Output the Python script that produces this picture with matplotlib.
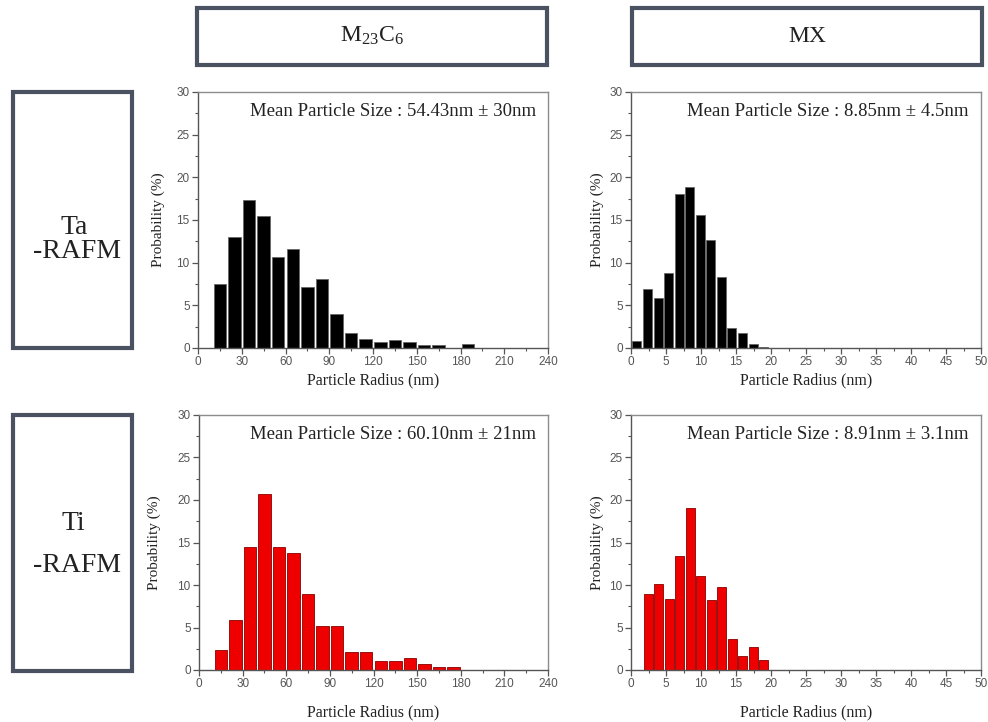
import matplotlib
matplotlib.use("Agg")
import matplotlib.pyplot as plt
from matplotlib.patches import Rectangle
from matplotlib.ticker import MultipleLocator

plt.rcParams["mathtext.fontset"] = "custom"
plt.rcParams["mathtext.rm"] = "Liberation Serif"
plt.rcParams["mathtext.it"] = "Liberation Serif:italic"
plt.rcParams["mathtext.bf"] = "Liberation Serif:bold"

# ---- data ----
m23_centers = [15, 25, 35, 45, 55, 65, 75, 85, 95, 105, 115, 125, 135, 145, 155, 165, 175, 185]
ta_m23 = [7.5, 13.0, 17.4, 15.5, 10.7, 11.6, 7.1, 8.1, 4.0, 1.7, 1.1, 0.7, 0.9, 0.7, 0.3, 0.3, 0.0, 0.45]
ti_m23 = [2.4, 5.9, 14.5, 20.7, 14.5, 13.8, 9.0, 5.2, 5.2, 2.1, 2.1, 1.1, 1.1, 1.4, 0.7, 0.35, 0.35, 0.0]

ta_mx_centers = [0.8, 2.35, 3.9, 5.4, 6.9, 8.4, 9.9, 11.4, 12.9, 14.4, 15.95, 17.45, 18.95]
ta_mx = [0.8, 6.9, 5.9, 8.8, 18.1, 18.9, 15.6, 12.7, 8.3, 2.4, 1.8, 0.5, 0.15]
ti_mx_centers = [2.45, 3.95, 5.45, 6.95, 8.45, 9.95, 11.45, 12.95, 14.45, 15.95, 17.45, 18.95]
ti_mx = [9.0, 10.1, 8.3, 13.4, 19.1, 11.1, 8.2, 9.8, 3.6, 1.7, 2.7, 1.2]

col_titles = [r"M$_{\mathrm{23}}$C$_{\mathrm{6}}$", "MX"]
row_titles = [["Ta", "-RAFM"], ["Ti", "-RAFM"]]
annotations = [["Mean Particle Size : 54.43nm \u00b1 30nm", "Mean Particle Size : 8.85nm \u00b1 4.5nm"],
               ["Mean Particle Size : 60.10nm \u00b1 21nm", "Mean Particle Size : 8.91nm \u00b1 3.1nm"]]
xlabel = "Particle Radius (nm)"
ylabel = "Probability (%)"

W, H = 988, 722
fig = plt.figure(figsize=(W / 100, H / 100), dpi=100)
fig.patch.set_facecolor("white")

SERIF = ["Liberation Serif", "DejaVu Serif"]
SANS = ["Liberation Sans", "DejaVu Sans"]
BOXCOL = "#4a5160"
TXT = "#222222"

def px_axes(x0, y0, x1, y1):
    return fig.add_axes([x0 / W, (H - y1) / H, (x1 - x0) / W, (y1 - y0) / H])

def px_rect(x0, y0, x1, y1):
    r = Rectangle((x0 / W, (H - y1) / H), (x1 - x0) / W, (y1 - y0) / H,
                  transform=fig.transFigure, fill=False, edgecolor=BOXCOL, linewidth=3)
    fig.add_artist(r)

def px_text(x, y, s, fs):
    fig.text(x / W, (H - y) / H, s, ha="center", va="center", fontsize=fs, family=SERIF, color=TXT)

# header boxes
px_rect(197, 8, 547, 65)
px_text(372, 36, col_titles[0], 17)
px_rect(632, 8, 982, 65)
px_text(807, 36, col_titles[1], 17)

# row boxes
px_rect(13, 92, 132, 348)
px_text(74, 227, row_titles[0][0], 20)
px_text(77, 252, row_titles[0][1], 20)
px_rect(13, 415, 132, 671)
px_text(73, 523, row_titles[1][0], 20)
px_text(77, 565, row_titles[1][1], 20)

axes_px = [[(198, 92, 548, 348), (631, 92, 981, 348)],
           [(199, 415, 548, 670), (631, 415, 981, 670)]]

data = [[(m23_centers, ta_m23, 10, "black", "#666666"), (ta_mx_centers, ta_mx, 1.5, "black", "#666666")],
        [(m23_centers, ti_m23, 10, "#ee0000", "#8a0000"), (ti_mx_centers, ti_mx, 1.5, "#ee0000", "#8a0000")]]

xlims = [240, 50]
xmaj = [30, 5]
xmin = [15, 2.5]
xlabelpads = [3, 10]
ylabelpads = [[8, 4], [12, 4]]

for r in range(2):
    for c in range(2):
        ax = px_axes(*axes_px[r][c])
        xs, ys, bw, fc, ec = data[r][c]
        ax.bar(xs, ys, width=bw * 0.86, color=fc, edgecolor=ec, linewidth=0.6, zorder=2)
        ax.set_xlim(0, xlims[c])
        ax.set_ylim(0, 30)
        ax.xaxis.set_major_locator(MultipleLocator(xmaj[c]))
        ax.xaxis.set_minor_locator(MultipleLocator(xmin[c]))
        ax.yaxis.set_major_locator(MultipleLocator(5))
        ax.yaxis.set_minor_locator(MultipleLocator(2.5))
        ax.tick_params(which="major", direction="out", length=4, width=0.9, color="#555555",
                       labelsize=8.5, labelcolor="#555555", pad=2)
        ax.tick_params(which="minor", direction="out", length=2.5, width=0.8, color="#555555")
        ax.tick_params(top=False, right=False, which="both")
        for lab in ax.get_xticklabels() + ax.get_yticklabels():
            lab.set_family(SANS)
        for s in ["left", "bottom"]:
            ax.spines[s].set_color("#555555")
            ax.spines[s].set_linewidth(1.0)
        for s in ["top", "right"]:
            ax.spines[s].set_color("#8c8c8c")
            ax.spines[s].set_linewidth(1.0)
        ax.set_ylabel(ylabel, family=SERIF, fontsize=11, color=TXT, labelpad=ylabelpads[r][c])
        ax.set_xlabel(xlabel, family=SERIF, fontsize=11.5, color=TXT, labelpad=xlabelpads[r])
        ax.text(0.965, 0.925, annotations[r][c], transform=ax.transAxes, ha="right", va="center",
                family=SERIF, fontsize=13.5, color=TXT)

fig.savefig("out.png", dpi=100, facecolor="white")
